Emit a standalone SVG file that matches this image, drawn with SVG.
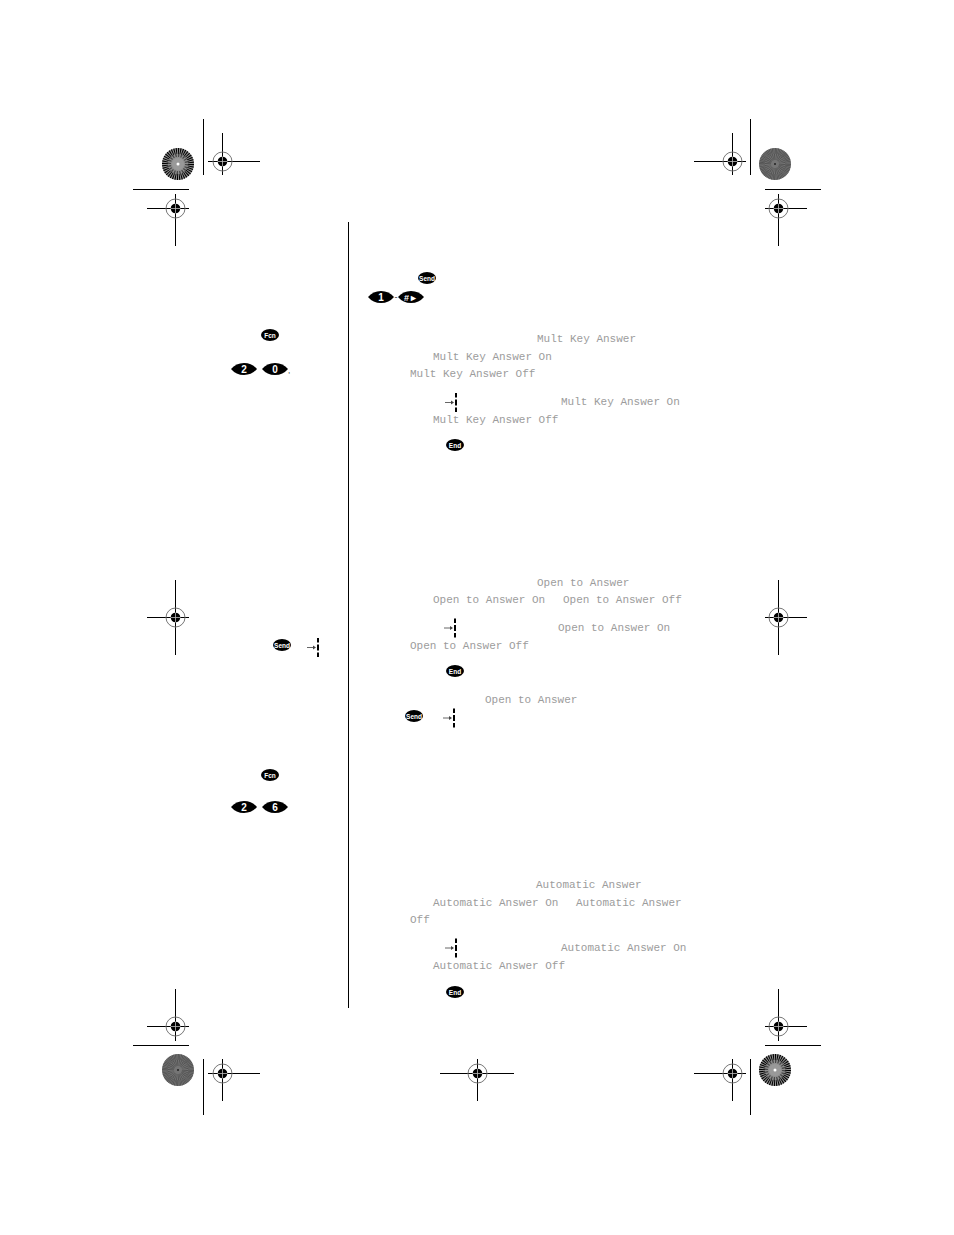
<svg xmlns="http://www.w3.org/2000/svg" width="954" height="1235" viewBox="0 0 954 1235">
<style>
.l{stroke:#000;stroke-width:1;fill:none}
.lcd{font-family:"Liberation Mono",monospace;font-size:11px;fill:#9c9c9c}
.k{fill:#000}
.kt{font-family:"Liberation Sans",Arial,sans-serif;font-weight:bold;fill:#fff;text-anchor:middle}
.s{font-size:6.500px}
.n{font-size:10px}
.sp{fill:none;stroke:#000}
</style>
<defs>
<path id="wide" d="M-13 0Q-8-6 0-6Q8-6 13 0Q8 6 0 6Q-8 6-13 0Z"/>
<g id="reg">
<circle r="9.500" fill="none" stroke="#777" stroke-width="1"/>
<circle r="4.800" fill="#000"/>
<path d="M-5 0H5M0-5V5" stroke="#bbb" stroke-width=".8"/>
</g>
<g id="burst">
<circle r="16" fill="#8f8f8f"/>
<circle r="13" class="sp" stroke-width="6" pathLength="80" stroke-dasharray="1 1"/>
<circle r="8.500" class="sp" stroke-width="3" stroke-opacity=".5" pathLength="40" stroke-dasharray="1 1"/>
<circle r="6" fill="#999"/>
<circle r="1.500" fill="#fff"/>
</g>
<g id="dense">
<circle r="16" fill="#757575"/>
<circle r="13" class="sp" stroke-width="6" stroke-opacity=".35" pathLength="120" stroke-dasharray="1 1"/>
<circle r="7" class="sp" stroke-width="6" stroke-opacity=".3" pathLength="60" stroke-dasharray="1 1"/>
<circle r="1" fill="#222"/>
</g>
<g id="sig">
<path d="M-11 0H-3" stroke="#666" stroke-width="1"/>
<path d="M-5-2L-2 0L-5 2Z" fill="#444"/>
<path d="M0-9.500V-5M0-3V3M0 5V9.500" stroke="#000" stroke-width="2"/>
</g>
</defs>
<rect width="954" height="1235" fill="#fff"/>
<g id="trim-lines">
<path class="l" d="M203.500 119V175M133 189.500H189M750.500 119V175M765 189.500H821M133 1045.500H189M203.500 1059V1115M765 1045.500H821M750.500 1059V1115M348.500 222V1008"/>
<path class="l" d="M208 161.500H260M222.500 133V175M147 208.500H189M175.500 194V246M694 161.500H746M732.500 133V175M765 208.500H807M778.500 194V246M147 1026.500H189M175.500 989V1041M208 1073.500H260M222.500 1059V1101M765 1026.500H807M778.500 989V1041M694 1073.500H746M732.500 1059V1101M147 617.500H189M175.500 580V655M765 617.500H807M778.500 580V655M440 1073.500H514M477.500 1059V1101"/>
</g>
<g id="registration-marks">
<use href="#reg" x="222.500" y="161.500"/><use href="#reg" x="175.500" y="208.500"/><use href="#reg" x="732.500" y="161.500"/><use href="#reg" x="778.500" y="208.500"/>
<use href="#reg" x="175.500" y="617.500"/><use href="#reg" x="778.500" y="617.500"/>
<use href="#reg" x="175.500" y="1026.500"/><use href="#reg" x="222.500" y="1073.500"/><use href="#reg" x="477.500" y="1073.500"/><use href="#reg" x="732.500" y="1073.500"/><use href="#reg" x="778.500" y="1026.500"/>
</g>
<g id="starbursts">
<use href="#burst" x="178" y="164"/><use href="#dense" x="775" y="164"/><use href="#dense" x="178" y="1070"/><use href="#burst" x="775" y="1070"/>
</g>
<g id="key-send-1"><ellipse class="k" cx="427" cy="278" rx="9" ry="6"/><text class="kt s" x="427" y="280.500">Send</text></g>
<g id="key-1"><use class="k" href="#wide" x="381" y="297"/><text class="kt n" x="381" y="300.500">1</text></g>
<text id="key-dash" x="394.500" y="300" font-family="Liberation Sans, sans-serif" font-size="9" fill="#333">-</text>
<g id="key-hash"><use class="k" href="#wide" x="411" y="297"/><text class="kt" font-size="9" x="411" y="300.500">#►</text></g>
<g id="key-fcn-1"><ellipse class="k" cx="270" cy="335" rx="9" ry="6"/><text class="kt s" x="270" y="337.500">Fcn</text></g>
<g id="key-2a"><use class="k" href="#wide" x="244" y="369"/><text class="kt n" x="244" y="372.500">2</text></g>
<g id="key-0"><use class="k" href="#wide" x="275" y="369"/><text class="kt n" x="275" y="372.500">0</text></g>
<text id="comma" x="288" y="373" font-family="Liberation Sans, sans-serif" font-size="8" fill="#000">,</text>
<g id="key-send-2"><ellipse class="k" cx="282" cy="645" rx="9" ry="6"/><text class="kt s" x="282" y="647.500">Send</text></g>
<g id="sig-1"><use href="#sig" x="318" y="647.500"/></g>
<g id="key-fcn-2"><ellipse class="k" cx="270" cy="775" rx="9" ry="6"/><text class="kt s" x="270" y="777.500">Fcn</text></g>
<g id="key-2b"><use class="k" href="#wide" x="244" y="807"/><text class="kt n" x="244" y="810.500">2</text></g>
<g id="key-6"><use class="k" href="#wide" x="275" y="807"/><text class="kt n" x="275" y="810.500">6</text></g>
<g id="sig-2"><use href="#sig" x="456" y="402.500"/></g>
<g id="key-end-1"><ellipse class="k" cx="455" cy="445" rx="9" ry="6"/><text class="kt s" x="455" y="447.500">End</text></g>
<g id="sig-3"><use href="#sig" x="455" y="628"/></g>
<g id="key-end-2"><ellipse class="k" cx="455" cy="671" rx="9" ry="6"/><text class="kt s" x="455" y="673.500">End</text></g>
<g id="key-send-3"><ellipse class="k" cx="414" cy="716" rx="9" ry="6"/><text class="kt s" x="414" y="718.500">Send</text></g>
<g id="sig-4"><use href="#sig" x="454" y="718"/></g>
<g id="sig-5"><use href="#sig" x="456" y="948"/></g>
<g id="key-end-3"><ellipse class="k" cx="455" cy="992" rx="9" ry="6"/><text class="kt s" x="455" y="994.500">End</text></g>
<g id="lcd-text" class="lcd">
<text x="537" y="342">Mult Key Answer</text>
<text x="433" y="360">Mult Key Answer On</text>
<text x="410" y="377">Mult Key Answer Off</text>
<text x="561" y="405">Mult Key Answer On</text>
<text x="433" y="423">Mult Key Answer Off</text>
<text x="537" y="586">Open to Answer</text>
<text x="433" y="603">Open to Answer On</text>
<text x="563" y="603">Open to Answer Off</text>
<text x="558" y="631">Open to Answer On</text>
<text x="410" y="649">Open to Answer Off</text>
<text x="485" y="703">Open to Answer</text>
<text x="536" y="888">Automatic Answer</text>
<text x="433" y="906">Automatic Answer On</text>
<text x="576" y="906">Automatic Answer</text>
<text x="410" y="923">Off</text>
<text x="561" y="951">Automatic Answer On</text>
<text x="433" y="969">Automatic Answer Off</text>
</g>
</svg>
